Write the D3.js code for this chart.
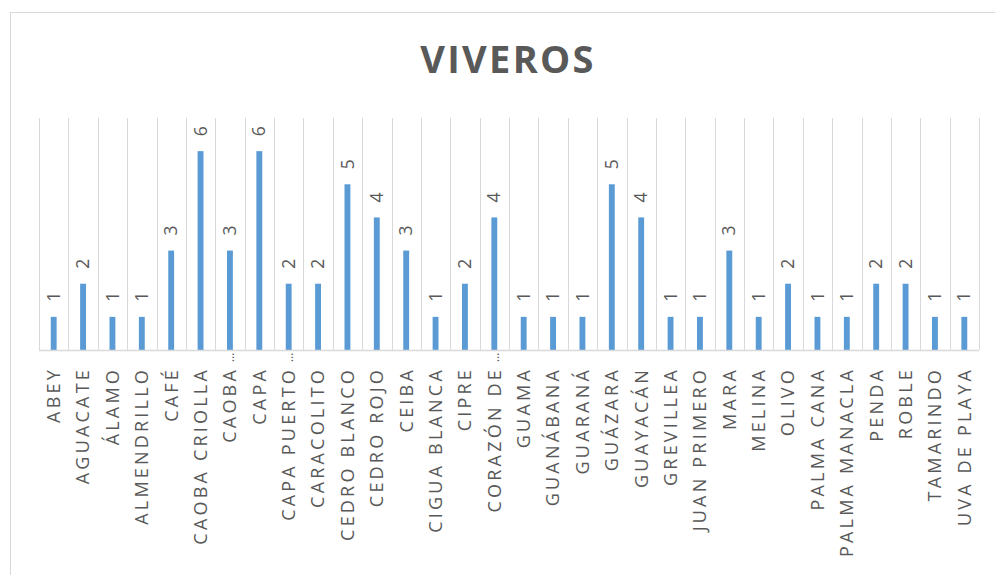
<!DOCTYPE html>
<html>
<head>
<meta charset="utf-8">
<script src="https://cdn.jsdelivr.net/npm/d3@7"></script>
<style>
  body { margin: 0; background: #fff; }
  svg { display: block; }
</style>
</head>
<body>
<div class="chart"></div>
<script>
// data
const categories = ["ABEY", "AGUACATE", "ÁLAMO", "ALMENDRILLO", "CAFÉ", "CAOBA CRIOLLA", "CAOBA…", "CAPA",
  "CAPA PUERTO…", "CARACOLITO", "CEDRO BLANCO", "CEDRO ROJO", "CEIBA", "CIGUA BLANCA", "CIPRE", "CORAZÓN DE…",
  "GUAMA", "GUANÁBANA", "GUARANÁ", "GUÁZARA", "GUAYACÁN", "GREVILLEA", "JUAN PRIMERO", "MARA",
  "MELINA", "OLIVO", "PALMA CANA", "PALMA MANACLA", "PENDA", "ROBLE", "TAMARINDO", "UVA DE PLAYA"];
const values = [1, 2, 1, 1, 3, 6, 3, 6,
  2, 2, 5, 4, 3, 1, 2, 4,
  1, 1, 1, 5, 4, 1, 1, 3,
  1, 2, 1, 1, 2, 2, 1, 1];
const yDomain = [0, 7];
const title = "VIVEROS";

function init(){
    createChart(".chart");
}

function createChart(id){
    const W = 995, H = 575;
    const margin = {top: 118, right: 16, bottom: 225, left: 39};
    const width = W - margin.left - margin.right,
          height = H - margin.top - margin.bottom;

    const svg = d3.select(id).append("svg")
        .attr("width", W)
        .attr("height", H);

    // chart frame (runs off the right and bottom edge)
    svg.append("rect")
        .attr("x", 10.5).attr("y", 12.5)
        .attr("width", 1000).attr("height", 600)
        .attr("fill", "none")
        .attr("stroke", "#d9d9d9");

    svg.append("text")
        .attr("x", 508).attr("y", 73)
        .attr("text-anchor", "middle")
        .style("font-family", "'Open Sans', sans-serif")
        .style("font-weight", "bold")
        .style("font-size", "38px")
        .style("letter-spacing", "2.3px")
        .attr("fill", "#595959")
        .text(title);

    const g = svg.append("g")
        .attr("transform", `translate(${margin.left},${margin.top})`);

    const x = d3.scaleBand()
        .domain(categories)
        .range([0, width])
        .paddingInner(0.8)
        .paddingOuter(0.4);

    const y = d3.scaleLinear()
        .domain(yDomain)
        .range([height, 0]);

    // vertical gridlines between categories
    const bounds = d3.range(categories.length + 1).map(i => i * width / categories.length);
    g.selectAll(".grid")
        .data(bounds)
        .join("line")
        .attr("class", "grid")
        .attr("x1", d => Math.round(d) + 0.5)
        .attr("x2", d => Math.round(d) + 0.5)
        .attr("y1", 0)
        .attr("y2", height)
        .attr("stroke", "#d9d9d9")
        .attr("stroke-width", 1);

    // bars
    g.selectAll(".bar")
        .data(values)
        .join("rect")
        .attr("class", "bar")
        .attr("x", (d, i) => x(categories[i]))
        .attr("width", x.bandwidth())
        .attr("y", d => y(d))
        .attr("height", d => height - y(d))
        .attr("fill", "#5b9bd5");

    // value labels
    g.selectAll(".val")
        .data(values)
        .join("text")
        .attr("class", "val")
        .attr("transform", (d, i) =>
            `translate(${x(categories[i]) + x.bandwidth() / 2},${y(d) - 15}) rotate(-90)`)
        .attr("dy", "0.35em")
        .style("font-family", "'Open Sans', sans-serif")
        .style("font-size", "17.5px")
        .attr("fill", "#595959")
        .text(d => d);

    // x axis line
    g.append("line")
        .attr("x1", 0).attr("x2", width)
        .attr("y1", height + 0.5).attr("y2", height + 0.5)
        .attr("stroke", "#d9d9d9")
        .attr("stroke-width", 1.5);

    // category labels, rotated
    const lab = g.selectAll(".cat")
        .data(categories)
        .join("g")
        .attr("class", "cat")
        .attr("transform", d => `translate(${x(d) + x.bandwidth() / 2},${height + 17}) rotate(-90)`);
    lab.append("text")
        .attr("text-anchor", "end")
        .attr("dy", "0.35em")
        .style("font-family", "'Open Sans', sans-serif")
        .style("font-size", "18px")
        .style("letter-spacing", "3.2px")
        .attr("fill", "#595959")
        .text(d => d.replace("…", ""));
    lab.filter(d => d.endsWith("…"))
        .append("text")
        .attr("x", 5)
        .attr("text-anchor", "start")
        .attr("dy", "0.35em")
        .style("font-family", "'Open Sans', sans-serif")
        .style("font-size", "12px")
        .attr("fill", "#595959")
        .text("…");
}

init();
</script>
</body>
</html>
